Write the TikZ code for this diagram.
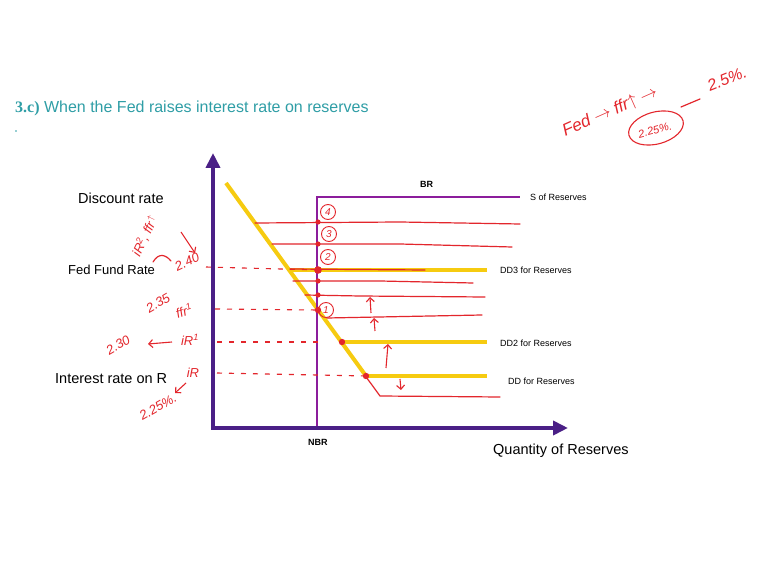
\documentclass[tikz,border=0pt]{standalone}
\usepackage{fontspec}
\setmainfont{Liberation Sans}
\newfontfamily\titleserif{Liberation Serif}
\usetikzlibrary{arrows.meta}
\definecolor{axisblue}{HTML}{4A1F86}
\definecolor{nbrpurple}{HTML}{8C1D9C}
\definecolor{ddyellow}{HTML}{F6CB10}
\definecolor{penred}{HTML}{E3262C}
\definecolor{titleteal}{HTML}{2F9EA6}
\tikzset{
  axisline/.style={axisblue, line width=4pt, -{Triangle[length=15pt,width=14pt]}},
  ddline/.style={ddyellow, line width=4pt},
  penline/.style={penred, line width=1.2pt, line cap=round},
  pendash/.style={penred, line width=1.1pt, dash pattern=on 5pt off 7pt},
  penarrow/.style={penred, line width=1.1pt, -{Straight Barb[length=4pt]}},
  label/.style={inner sep=0pt, anchor=west, font=\fontsize{14.5}{15}\selectfont},
  small/.style={inner sep=0pt, anchor=west, font=\fontsize{9}{10}\selectfont},
  hand/.style={inner sep=0pt, penred, font=\fontsize{13}{13}\selectfont\itshape},
  numcircle/.style={circle, draw=penred, penred, line width=0.9pt, inner sep=0pt,
    minimum size=15pt, font=\fontsize{10}{10}\selectfont\itshape},
  pendot/.style={penred}
}
\begin{document}
\begin{tikzpicture}[x=1pt, y=-1pt]
\useasboundingbox[fill=white] (0,0) rectangle (764,577);

% title
\node[inner sep=0pt, anchor=west, titleteal, font=\fontsize{16}{17}\selectfont] (title) at (15,108)
  {{\titleserif\bfseries 3.c)} When the Fed raises interest rate on reserves};
\fill[titleteal] (16,131) circle (0.8pt);

% demand curves
\draw[ddline] (226,183) -- (366,376);
\draw[ddline] (289,270) -- (487,270);
\draw[ddline] (342,342) -- (487,342);
\draw[ddline] (366,376) -- (487,376);

% supply of reserves
\draw[nbrpurple, line width=2.5pt] (317,428) -- (317,197) -- (520,197);

% axes
\draw[axisline] (213,429) -- (213,153);
\draw[axisline] (211,428) -- (568,428);

% labels
\node[label] (disc) at (78,198) {Discount rate};
\node[label, font=\fontsize{13}{14}\selectfont] (ffr) at (68,270) {Fed Fund Rate};
\node[label] (ior) at (55,379) {Interest rate on R};
\node[label] (qty) at (493,451) {Quantity of Reserves};
\node[small, font=\fontsize{9}{10}\selectfont\bfseries] (br) at (420,184) {BR};
\node[small, font=\fontsize{9}{10}\selectfont\bfseries] (nbr) at (308,442) {NBR};
\node[small] (sres) at (530,197) {S of Reserves};
\node[small] (dd3) at (500,270) {DD3 for Reserves};
\node[small] (dd2) at (500,343) {DD2 for Reserves};
\node[small] (dd1) at (508,381) {DD for Reserves};

% red horizontals
\draw[penline] (255,223) -- (400,222) -- (520,224);
\draw[penline] (272,244) -- (400,244) -- (512,247);
\draw[penline] (290,269) -- (425,270);
\draw[penline] (293,281) -- (380,281) -- (473,283);
\draw[penline] (305,295) -- (360,296) -- (485,297);
\draw[penline] (327,318) -- (482,315);
\draw[penline] (366,377) -- (372,385) -- (380,396) -- (500,397);

% red dots
\foreach \yy in {222,244,281,295}
  \fill[pendot] (318,\yy) circle (2.6pt);
\fill[pendot] (318,270) circle (3.8pt);
\fill[pendot] (318,310) circle (3.2pt);
\fill[pendot] (342,342) circle (3.2pt);
\fill[pendot] (366,376) circle (3.2pt);

% circled numbers
\node[numcircle] (c4) at (328,212) {4};
\node[numcircle] (c3) at (329,234) {3};
\node[numcircle] (c2) at (328,257) {2};
\node[numcircle] (c1) at (326,310) {1};

% shift arrows
\draw[penarrow] (371,313) -- (370,297);
\draw[penarrow] (375,331) -- (374,318);
\draw[penarrow] (386,368) -- (388,344);
\draw[penarrow] (400,379) -- (401,390);

% dashed guides
\draw[pendash] (206,267) -- (318,270);
\draw[pendash] (215,309) -- (318,310);
\draw[pendash] (217,342) -- (320,342);
\draw[pendash] (217,373) -- (366,376);

% left notes
\node[hand, rotate=25] (n240) at (187,262) {2.40};
\node[hand, rotate=65] (niR2) at (145,236) {iR\textsuperscript{2}, ffr\textsuperscript{\,$\uparrow$}};
\draw[penarrow] (181,232) -- (195,253);
\draw[penline] (153,262) .. controls (159,252) and (166,255) .. (171,261);
\node[hand, rotate=30] (n235) at (158,303) {2.35};
\node[hand, rotate=20] (nffr1) at (184,311) {ffr\textsuperscript{1}};
\node[hand, rotate=30] (n230) at (118,345) {2.30};
\draw[penarrow] (172,342) -- (148,344);
\node[hand] (niR1) at (190,340) {iR\textsuperscript{1}};
\node[hand] (niR) at (193,373) {iR};
\draw[penarrow] (186,383) -- (175,393);
\node[hand, rotate=30] (n225) at (158,407) {2.25\%.};

% top right note
\node[hand, rotate=24, font=\fontsize{17}{17}\selectfont\itshape] (fed) at (610,112) {Fed $\rightarrow$ ffr$\uparrow$ $\rightarrow$};
\node[hand, rotate=15, font=\fontsize{11}{11}\selectfont\itshape] (n225b) at (655,130) {2.25\%.};
\draw[penred, line width=1.1pt, rotate around={15:(656,128)}] (656,128) ellipse (28pt and 16pt);
\draw[penline] (681,107) -- (700,99);
\node[hand, rotate=22, font=\fontsize{16}{16}\selectfont\itshape] (n25) at (727,79) {2.5\%.};
\end{tikzpicture}
\end{document}
